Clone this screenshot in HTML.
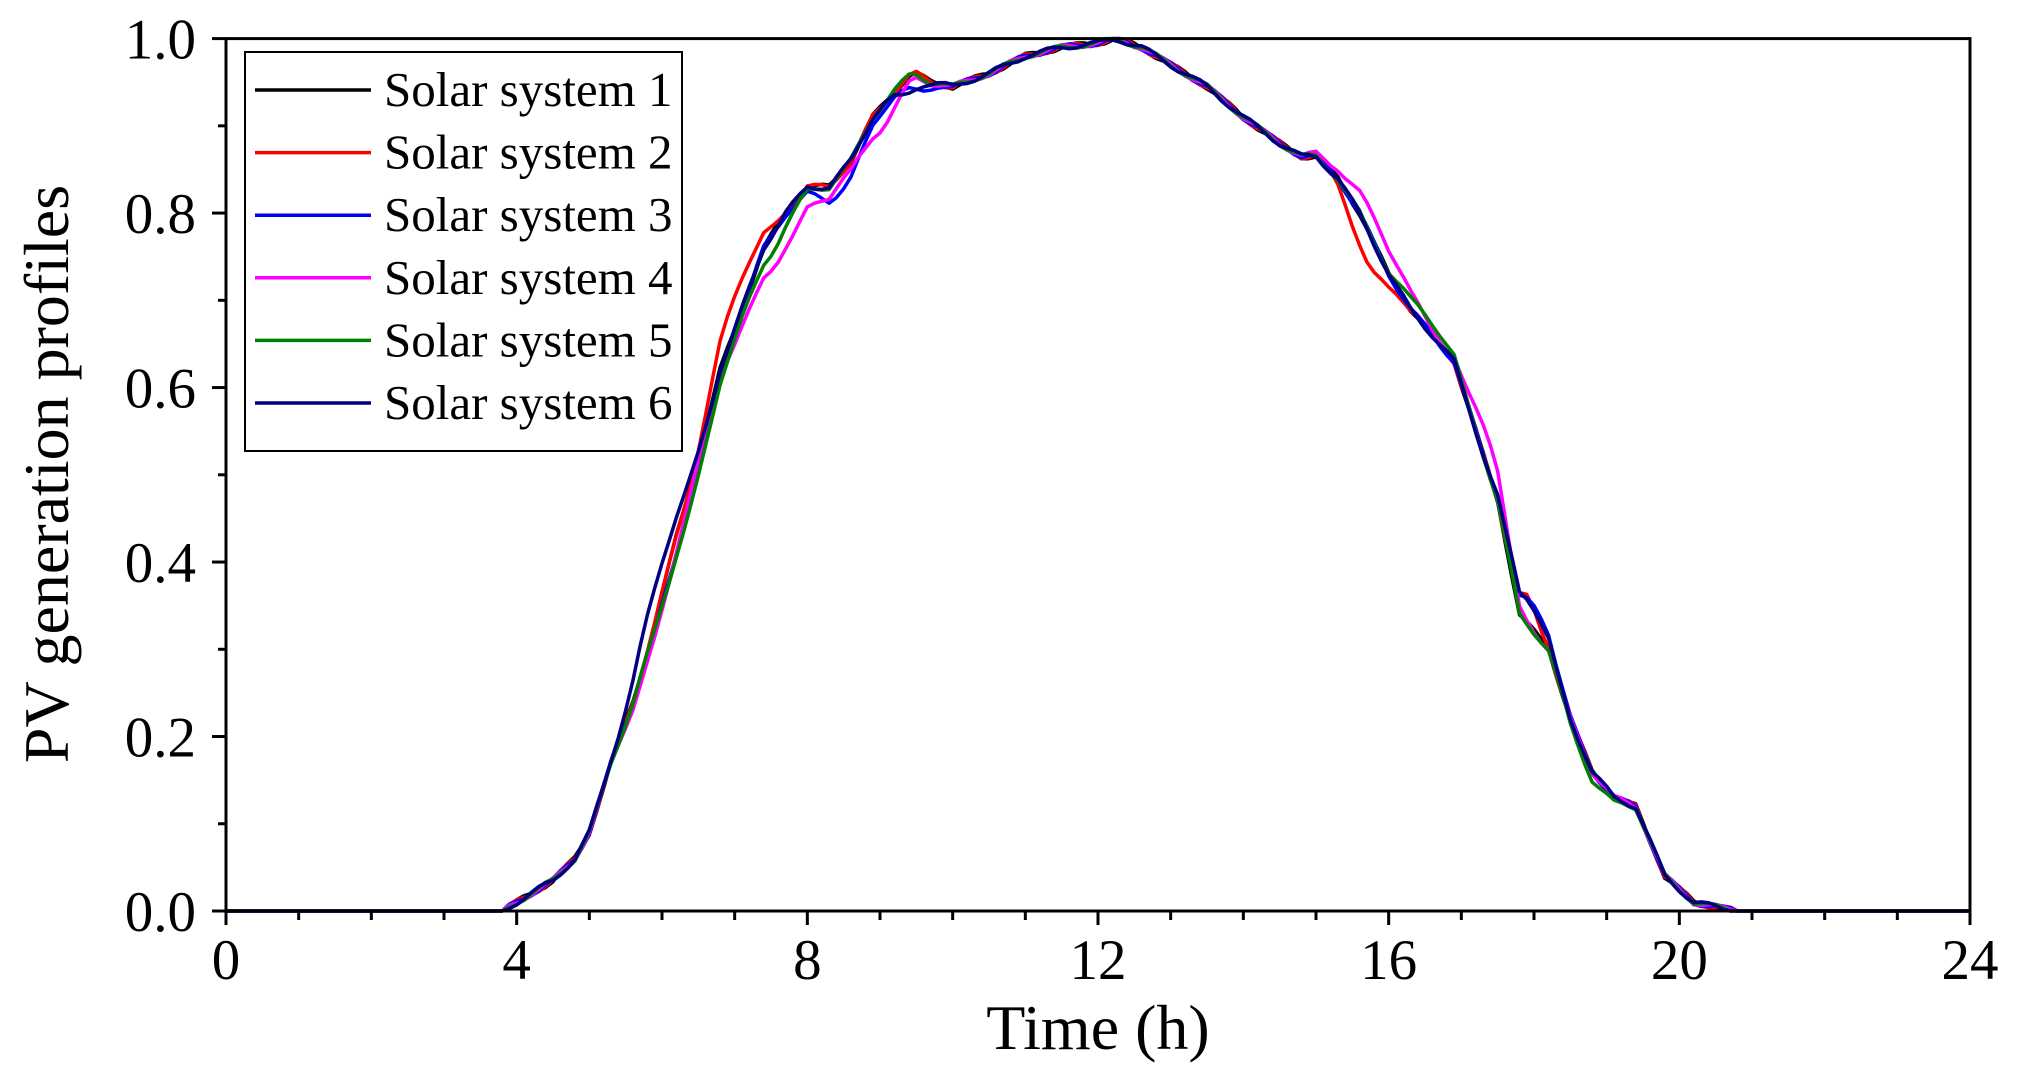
<!DOCTYPE html>
<html><head><meta charset="utf-8"><style>
html,body{margin:0;padding:0;background:#fff}
svg text{font-family:"Liberation Serif","Times New Roman",serif;fill:#000}
</style></head><body>
<svg id="s" width="2019" height="1077" viewBox="0 0 2019 1077" xmlns="http://www.w3.org/2000/svg">
<rect width="2019" height="1077" fill="#fff"/>
<g id="series" fill="none" stroke-width="3.5" stroke-linejoin="round"></g>
<rect x="226" y="38.6" width="1744" height="872.4" fill="none" stroke="#000" stroke-width="3"/>
<g id="ticks" stroke="#000" stroke-width="3"></g>
<g font-size="57" text-anchor="end" id="ylab"></g>
<g font-size="57" text-anchor="middle" id="xlab"></g>
<text x="1098" y="1049" font-size="64" text-anchor="middle">Time (h)</text>
<text transform="translate(68,474) rotate(-90)" font-size="64" text-anchor="middle">PV generation profiles</text>
<rect x="245" y="52" width="437" height="399" fill="#fff" stroke="#000" stroke-width="2"/>
<g id="leg" font-size="49"></g>
</svg>
<script>
var X0=226,X1=1970,Y0=911,Y1=38.6;
function px(h){return X0+(X1-X0)*h/24}
function py(v){return Y0-(Y0-Y1)*v}
var ns="http://www.w3.org/2000/svg";
function el(t,a,p,txt){var e=document.createElementNS(ns,t);for(var k in a)e.setAttribute(k,a[k]);if(txt!==undefined)e.textContent=txt;document.getElementById(p).appendChild(e);return e}
for(var i=0;i<=10;i++){var y=py(i/10),L=i%2==0?14:8;el('line',{x1:X0-L,y1:y,x2:X0,y2:y},'ticks');
 if(i%2==0)el('text',{x:X0-30,y:y+20},'ylab',(i/10).toFixed(1));}
for(var h=0;h<=24;h++){var x=px(h),L=h%4==0?14:9;el('line',{x1:x,y1:Y0,x2:x,y2:Y0+L},'ticks');
 if(h%4==0)el('text',{x:x,y:Y0+68},'xlab',String(h));}
var base=[[0,0],[3.8,0],[4.0,0.01],[4.5,0.035],[4.8,0.06],[5.0,0.09],[5.3,0.17],[5.6,0.24],[5.9,0.33],[6.2,0.43],[6.5,0.52],[6.8,0.62],[7.1,0.69],[7.4,0.76],[7.7,0.80],[8.0,0.83],[8.3,0.83],[8.6,0.86],[8.9,0.91],[9.2,0.94],[9.45,0.962],[9.7,0.95],[10.0,0.945],[10.5,0.96],[11,0.98],[11.5,0.99],[12,0.995],[12.25,1.0],[12.6,0.99],[13,0.97],[13.5,0.945],[14,0.91],[14.5,0.88],[14.8,0.865],[15,0.865],[15.3,0.84],[15.6,0.80],[16,0.73],[16.3,0.69],[16.6,0.66],[16.9,0.63],[17.2,0.55],[17.5,0.47],[17.8,0.34],[18.2,0.30],[18.5,0.22],[18.8,0.16],[19.1,0.13],[19.4,0.12],[19.6,0.08],[19.8,0.04],[20.2,0.01],[20.6,0.003],[20.8,0],[24,0]];
function interp(h){for(var i=1;i<base.length;i++){if(h<=base[i][0]){var a=base[i-1],b=base[i];return a[1]+(b[1]-a[1])*(h-a[0])/(b[0]-a[0]);}}return 0}
function bump(h,c,w,a){return a*Math.exp(-Math.pow((h-c)/w,2))}
var cols=['#000000','#ff0000','#0000ff','#ff00ff','#008000','#000080'];
var mods=[
 function(h){return 0},
 function(h){return bump(h,7.0,0.4,0.04)+bump(h,15.7,0.3,-0.04)+bump(h,17.9,0.2,0.03)},
 function(h){return bump(h,6.3,0.5,-0.02)+bump(h,8.5,0.5,-0.02)+bump(h,9.5,0.2,-0.02)+bump(h,18,0.3,0.03)},
 function(h){return bump(h,6.0,0.4,-0.02)+bump(h,7.6,0.6,-0.04)+bump(h,9.0,0.4,-0.025)+bump(h,15.9,0.6,0.03)+bump(h,17.4,0.3,0.04)},
 function(h){return bump(h,6.4,0.5,-0.025)+bump(h,7.5,0.4,-0.02)+bump(h,16.5,0.4,0.015)+bump(h,18.8,0.4,-0.01)},
 function(h){return bump(h,5.9,0.4,0.04)+bump(h,9.4,0.2,-0.02)+bump(h,17.9,0.3,0.03)}
];
for(var s=0;s<6;s++){var d='';var seed=s*7+3;
 for(var h=0;h<=24.001;h+=0.1){var v=interp(h);if(v>0.001){v+=mods[s](h)+0.003*Math.sin(h*9+seed);}v=Math.max(0,Math.min(1,v));
  d+=(d?'L':'M')+px(h).toFixed(1)+','+py(v).toFixed(1);}
 el('path',{d:d,stroke:cols[s]},'series');
 var ly=90+s*62.6;
 el('line',{x1:255,y1:ly,x2:371,y2:ly,stroke:cols[s],'stroke-width':3.5},'leg');
 el('text',{x:384,y:ly+16},'leg','Solar system '+(s+1));
}
</script>
</body></html>
